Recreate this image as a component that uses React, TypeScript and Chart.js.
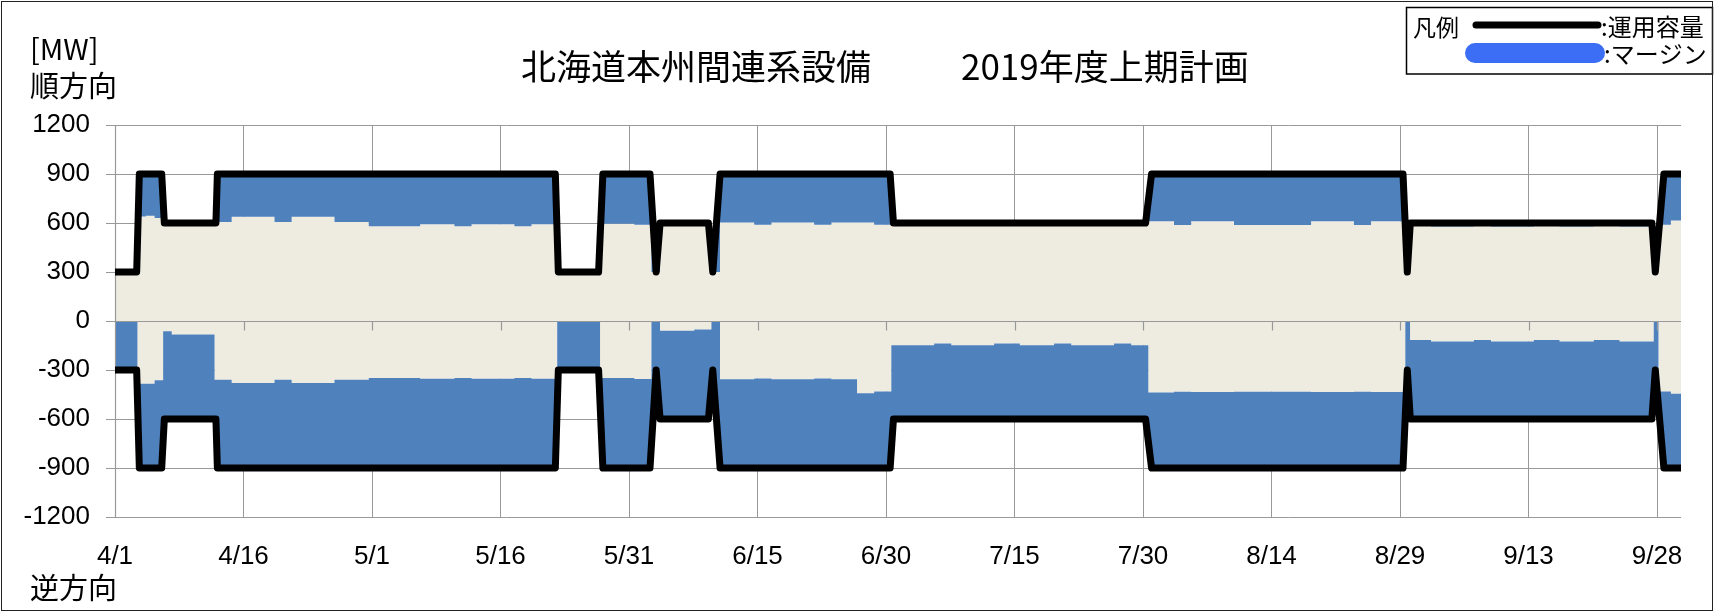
import React, { useEffect, useRef } from 'react';
import { Chart, registerables } from 'chart.js';

Chart.register(...registerables);

const WIDTH = 1714;
const HEIGHT = 612;

// ---------- data ----------
const xTickLabels = ['4/1', '4/16', '5/1', '5/16', '5/31', '6/15', '6/30', '7/15', '7/30', '8/14', '8/29', '9/13', '9/28'];
const xTickStep = 15; // days between labels
const xEnd = 182.8; // end of 9/30 in days after 4/1
const yMin = -1200;
const yMax = 1200;
const yStep = 300;

// 運用容量 (operating capacity), breakpoints in days after 4/1
const capX = [0, 2.53, 2.84, 5.45, 5.76, 11.78, 11.95, 51.4, 51.75, 56.45, 56.95, 62.45, 63.17, 63.63, 69.27, 69.78, 70.63, 90.48, 90.87, 120.3, 121.0, 150.35, 150.85, 151.2, 179.4, 179.8, 180.8, 182.8];
const capForward = [300, 300, 900, 900, 600, 600, 900, 900, 300, 300, 900, 900, 300, 600, 600, 300, 900, 900, 600, 600, 900, 900, 300, 600, 600, 300, 900, 900];
const capReverse = [-300, -300, -900, -900, -600, -600, -900, -900, -300, -300, -900, -900, -300, -600, -600, -300, -900, -900, -600, -600, -900, -900, -300, -600, -600, -300, -900, -900];

// margin inner edges by period (start day index, 4/1 = 0)
const periodStartDay = [0, 3, 4, 5, 6, 7, 12, 14, 19, 21, 26, 30, 36, 40, 42, 47, 49, 52, 57, 61, 63, 64, 68, 70, 71, 75, 77, 82, 84, 87, 89, 91, 96, 98, 103, 106, 110, 112, 117, 119, 121, 124, 126, 131, 140, 145, 147, 151, 151.55, 154, 159, 161, 166, 169, 173, 176, 180, 180.55, 182];
const forwardInner = [300, 640, 645, 630, 600, 600, 606, 638, 606, 638, 606, 580, 592, 580, 592, 580, 592, 300, 596, 590, 300, 600, 600, 300, 603, 590, 603, 590, 603, 603, 590, 600, 600, 600, 600, 600, 600, 600, 600, 600, 610, 587, 610, 587, 610, 587, 610, 300, 592, 578, 592, 578, 592, 578, 592, 578, 300, 590, 615];
const reverseInner = [0, -384, -384, -363, -63, -83, -359, -380, -359, -380, -359, -349, -353, -349, -353, -349, -353, 0, -349, -355, 0, -60, -52, 0, -357, -352, -357, -352, -357, -442, -432, -148, -137, -148, -137, -148, -137, -148, -137, -148, -438, -433, -435, -433, -435, -433, -435, 0, -116, -126, -116, -126, -116, -126, -116, -126, 0, -432, -445];
const periodShift = 0.38; // periods begin slightly before the day gridline

const legendLine = '運用容量';
const legendArea = 'マージン';
const titleLeft = '北海道本州間連系設備';
const titleRight = '2019年度上期計画';

// ---------- styles ----------
const BLUE = '#4F81BD';
const BEIGE = '#EEECE1';
const GRID = '#999999';
const LEGEND_BLUE = '#3B6EF5';
const CJK = '"Noto Sans CJK JP", "Noto Sans CJK SC", sans-serif';
const LATIN = '"Liberation Sans", Arimo, Arial, sans-serif';

function stepPoints(values: number[]) {
  const pts: { x: number; y: number }[] = [];
  for (let i = 0; i < periodStartDay.length; i++) {
    const x0 = Math.max(0, periodStartDay[i] - periodShift);
    const x1 = i + 1 < periodStartDay.length ? periodStartDay[i + 1] - periodShift : xEnd;
    pts.push({ x: x0, y: values[i] }, { x: x1, y: values[i] });
  }
  return pts;
}

const overlayPlugin = {
  id: 'overlay',
  beforeDatasetDraw(chart: any, args: any) {
    if (args.index !== 1) return;
    const { ctx, chartArea, scales } = chart;
    const y0 = Math.round(scales.y.getPixelForValue(0)) + 0.5;
    ctx.save();
    ctx.strokeStyle = GRID;
    ctx.lineWidth = 1.2;
    ctx.beginPath();
    ctx.moveTo(chartArea.left, y0);
    ctx.lineTo(chartArea.right, y0);
    for (let i = 1; i < xTickLabels.length; i++) {
      const x = Math.round(scales.x.getPixelForValue(i * xTickStep)) + 0.5;
      ctx.moveTo(x, y0);
      ctx.lineTo(x, y0 + 9);
    }
    const xl = Math.round(chartArea.left) + 0.5;
    ctx.moveTo(xl, chartArea.top);
    ctx.lineTo(xl, chartArea.bottom);
    ctx.stroke();
    ctx.restore();
  },
  afterDraw(chart: any) {
    const { ctx } = chart;
    ctx.save();
    ctx.fillStyle = '#000';
    ctx.textBaseline = 'middle';
    ctx.textAlign = 'left';
    // axis captions
    ctx.font = `29px ${CJK}`;
    ctx.fillText('[MW]', 30, 49);
    ctx.fillText('順方向', 30, 86);
    ctx.fillText('逆方向', 30, 588);
    // title
    ctx.font = `35px ${CJK}`;
    ctx.fillText(titleLeft, 521, 67);
    ctx.fillText(titleRight, 961, 67);
    // legend box
    ctx.strokeStyle = '#000';
    ctx.lineWidth = 1.5;
    ctx.strokeRect(1406.5, 7.5, 306, 66.5);
    ctx.font = `23px ${CJK}`;
    ctx.fillText('凡例', 1413, 27);
    ctx.font = `24px ${CJK}`;
    ctx.fillText(':' + legendLine, 1601, 27);
    ctx.fillText(':' + legendArea, 1604, 54);
    ctx.lineWidth = 7;
    ctx.lineCap = 'round';
    ctx.beginPath();
    ctx.moveTo(1476, 25);
    ctx.lineTo(1598, 25);
    ctx.stroke();
    ctx.fillStyle = LEGEND_BLUE;
    ctx.beginPath();
    const px = 1465, py = 43, pw = 140, ph = 20, r = 10;
    ctx.moveTo(px + r, py);
    ctx.lineTo(px + pw - r, py);
    ctx.arc(px + pw - r, py + r, r, -Math.PI / 2, Math.PI / 2);
    ctx.lineTo(px + r, py + ph);
    ctx.arc(px + r, py + r, r, Math.PI / 2, Math.PI * 1.5);
    ctx.closePath();
    ctx.fill();
    // outer frame
    ctx.strokeStyle = '#222';
    ctx.lineWidth = 1;
    ctx.strokeRect(1.5, 1.5, WIDTH - 3, HEIGHT - 3);
    ctx.restore();
  },
};

export default function App() {
  const ref = useRef<HTMLCanvasElement | null>(null);

  useEffect(() => {
    document.body.style.margin = '0';
    const canvas = ref.current;
    if (!canvas) return;
    const lineCommon = {
      borderColor: '#000',
      borderWidth: 7,
      backgroundColor: BLUE,
      pointRadius: 0,
      borderJoinStyle: 'round' as const,
      borderCapStyle: 'butt' as const,
      tension: 0,
      clip: 0,
    };
    const chart = new Chart(canvas, {
      type: 'line',
      data: {
        datasets: [
          { ...lineCommon, label: legendLine + '(順)', data: capX.map((x, i) => ({ x, y: capForward[i] })), fill: 2 },
          { ...lineCommon, label: legendLine + '(逆)', data: capX.map((x, i) => ({ x, y: capReverse[i] })), fill: 3 },
          { label: 'fwd', data: stepPoints(forwardInner), borderColor: 'rgba(0,0,0,0)', borderWidth: 0, backgroundColor: BEIGE, fill: 3, pointRadius: 0, tension: 0 },
          { label: 'rev', data: stepPoints(reverseInner), borderColor: 'rgba(0,0,0,0)', borderWidth: 0, backgroundColor: BEIGE, fill: false, pointRadius: 0, tension: 0 },
        ],
      },
      options: {
        responsive: false,
        animation: false,
        events: [],
        layout: { padding: { left: 0, right: 33, top: 125, bottom: 0 } },
        plugins: { legend: { display: false }, tooltip: { enabled: false }, title: { display: false } },
        scales: {
          x: {
            type: 'linear',
            min: 0,
            max: xEnd,
            afterBuildTicks: (scale: any) => {
              scale.ticks = xTickLabels.map((_, i) => ({ value: i * xTickStep }));
            },
            afterFit: (scale: any) => { scale.height = 95; },
            ticks: {
              autoSkip: false,
              maxRotation: 0,
              padding: 24,
              color: '#000',
              font: { family: LATIN, size: 26 },
              callback: (v: any) => xTickLabels[Math.round(Number(v) / xTickStep)] ?? '',
            },
            grid: { color: GRID, lineWidth: 1, drawTicks: false },
            border: { display: false },
          },
          y: {
            type: 'linear',
            min: yMin,
            max: yMax,
            afterFit: (scale: any) => { scale.width = 115; },
            ticks: {
              stepSize: yStep,
              padding: 16,
              color: '#000',
              font: { family: LATIN, size: 26 },
              callback: (v: any) => String(v),
            },
            grid: { color: GRID, lineWidth: 1, drawTicks: true, tickLength: 9 },
            border: { display: false },
          },
        },
      },
      plugins: [overlayPlugin],
    } as any);
    return () => chart.destroy();
  }, []);

  return <canvas ref={ref} width={WIDTH} height={HEIGHT} style={{ display: 'block' }} />;
}
